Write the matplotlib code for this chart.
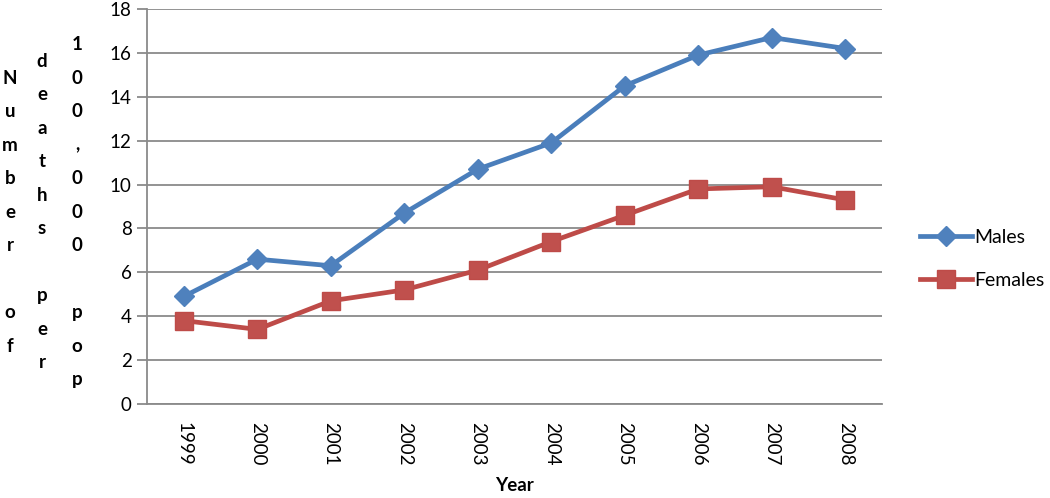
import matplotlib
matplotlib.use('Agg')
import matplotlib.pyplot as plt

# data
years = ['1999', '2000', '2001', '2002', '2003', '2004', '2005', '2006', '2007', '2008']
males = [4.9, 6.6, 6.3, 8.7, 10.7, 11.9, 14.5, 15.9, 16.7, 16.2]
females = [3.8, 3.4, 4.7, 5.2, 6.1, 7.4, 8.6, 9.8, 9.9, 9.3]
ylabel_cols = ['Number of', 'deaths per', '100,000 pop']

FONT = ['Lato', 'DejaVu Sans']
GRID = '#8a8a8a'

plt.rcParams['font.family'] = FONT

fig = plt.figure(figsize=(10.5, 4.98), dpi=100)
ax = fig.add_axes([147 / 1050, 94 / 498, 735 / 1050, 395 / 498])

x = list(range(len(years)))
ax.plot(x, males, color='#4A7EBB', lw=3.4, marker='D', ms=10,
        mfc='#4F81BD', mec='#4F81BD', label='Males', zorder=3)
ax.plot(x, females, color='#BE4B48', lw=3.4, marker='s', ms=12.5,
        mfc='#C0504D', mec='#BE4B48', label='Females', zorder=3)

ax.set_xlim(-0.5, len(years) - 0.5)
ax.set_ylim(0, 18)
ax.set_yticks(range(0, 19, 2))
ax.set_xticks(x)
ax.set_xticklabels(years, rotation=270, fontsize=13.5)
ax.tick_params(axis='x', length=0, pad=13)
ax.tick_params(axis='y', length=7, width=1.3, color=GRID, labelsize=13.5, pad=4)
ax.grid(axis='y', color=GRID, lw=1.3)
ax.set_axisbelow(True)
for s in ['top', 'right']:
    ax.spines[s].set_visible(False)
for s in ['left', 'bottom']:
    ax.spines[s].set_color(GRID)
    ax.spines[s].set_linewidth(1.3)

ax.set_xlabel('Year', fontsize=13.5, fontweight='bold', labelpad=8)

# stacked y-axis title, one column per word group
col_x = [10, 42, 77]
step = 33.5
yc = 212
for cx, words in zip(col_x, ylabel_cols):
    n = len(words)
    for i, ch in enumerate(words):
        if ch == ' ':
            continue
        py = yc + (i - (n - 1) / 2) * step
        fig.text(cx / 1050, 1 - py / 498, ch, ha='center', va='center',
                 fontsize=13.5, fontweight='bold')

ax.legend(loc='center left', bbox_to_anchor=(902 / 1050, 1 - 259 / 498),
          bbox_transform=fig.transFigure, frameon=False, fontsize=14,
          handlelength=2.7, handletextpad=0.1, labelspacing=1.35)

fig.savefig('out.png', dpi=100)
